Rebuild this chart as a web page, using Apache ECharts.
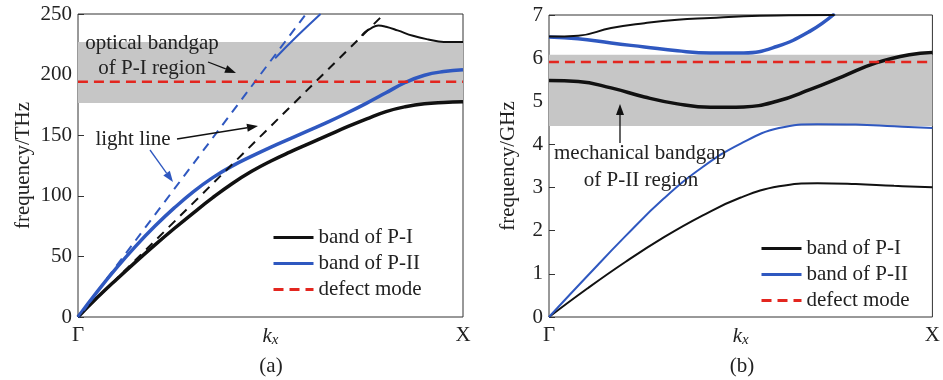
<!DOCTYPE html>
<html><head><meta charset="utf-8">
<script src="https://cdn.jsdelivr.net/npm/echarts@6/dist/echarts.min.js"></script>
<style>html,body{margin:0;padding:0;background:#fff}#c{width:943px;height:380px}</style>
</head><body><div id="c"></div>
<script>
// ---------- data (a) optical bands, frequency in THz ----------
const kStep = [0,0.05,0.1,0.15,0.2,0.25,0.3,0.35,0.4,0.45,0.5,0.55,0.6,0.65,0.7,0.75,0.8,0.85,0.9,0.95,1];
const aP1Band1 = [0,16,31,45.5,59.5,73,86,98.5,110,120,128.5,136,143,150,157,163.5,169.5,173.5,176,177,177.5];
const aP2Band1 = [0,21,40.5,58.5,75,90,103.5,115,124.5,132.5,140,147,154,161,168.5,176.5,185,193.5,199.5,202.5,204];
const aP1Band2 = [[0.737,232],[0.745,235],[0.76,238],[0.78,240.5],[0.8,239.5],[0.83,236.5],[0.87,232],[0.91,229],[0.95,227],[1,227]];
const aP2Band2 = [[0.512,213.5],[0.57,232],[0.63,250]];
const aLightP1 = [[0,0],[0.795,250]];
const aLightP2 = [[0,0],[0.592,250]];
const aDefect = 194;
const aGap = [176.5, 227];
const aYTicks = [0, 250, 50];
// ---------- data (b) mechanical bands, frequency in GHz ----------
const kTen = [0,0.1,0.2,0.3,0.4,0.5,0.6,0.7,0.8,0.9,1];
const bP1Band1 = [0,0.66,1.28,1.85,2.35,2.77,3.03,3.1,3.08,3.04,3.01];
const bP2Band1 = [0,0.95,1.88,2.75,3.47,4.02,4.38,4.47,4.46,4.42,4.38];
const bP1Band2 = [[0,5.48],[0.076,5.46],[0.162,5.31],[0.249,5.1],[0.335,4.94],[0.421,4.86],[0.508,4.87],[0.594,5.0],[0.68,5.27],[0.767,5.58],[0.853,5.89],[0.94,6.08],[1,6.13]];
const bP2Band2 = [[0,6.49],[0.076,6.45],[0.162,6.35],[0.249,6.26],[0.335,6.17],[0.421,6.12],[0.508,6.12],[0.594,6.27],[0.68,6.62],[0.745,7.03]];
const bP1Band3 = [[0,6.5],[0.076,6.52],[0.162,6.7],[0.249,6.81],[0.335,6.89],[0.421,6.93],[0.508,6.97],[0.594,6.99],[0.745,7.0]];
const bDefect = 5.91;
const bGap = [4.43, 6.08];
const bYTicks = [0, 7, 1];
const kLabels = ['Γ', 'k', 'x', 'X'];
const legendNames = ['band of P-I', 'band of P-II', 'defect mode'];

const FONT = 'Liberation Serif';
const BLACK = '#111111', BLUE = '#2f58c0', RED = '#e3261f', GRAY = '#c6c6c6';
const zip = (xs, ys) => xs.map((x, i) => [x, ys[i]]);

function xAxisCfg(gi) {
  return {
    type: 'value', gridIndex: gi, min: 0, max: 1, interval: 0.5,
    axisLine: {show: false}, axisTick: {show: false}, splitLine: {show: false},
    axisLabel: {
      margin: 8, fontFamily: FONT, fontSize: 21, color: '#222',
      formatter: v => v === 0 ? kLabels[0] : (v === 1 ? kLabels[3] : '{k|' + kLabels[1] + '}{s|' + kLabels[2] + '}'),
      rich: {k: {fontFamily: FONT, fontStyle: 'italic', fontSize: 21, color: '#222'},
             s: {fontFamily: FONT, fontStyle: 'italic', fontSize: 15, color: '#222', verticalAlign: 'bottom', padding: [8,0,0,0]}}
    }
  };
}
function yAxisCfg(gi, t, name, gap) {
  return {
    type: 'value', gridIndex: gi, min: t[0], max: t[1], interval: t[2],
    name: name, nameLocation: 'middle', nameGap: gap,
    nameTextStyle: {fontFamily: FONT, fontSize: 21, color: '#222'},
    axisLine: {show: false}, splitLine: {show: false},
    axisTick: {show: true, inside: true, length: 6, lineStyle: {color: '#333', width: 1}},
    axisLabel: {margin: 6, fontFamily: FONT, fontSize: 21, color: '#222'}
  };
}
function line(name, gi, data, color, width, dash, z) {
  return {
    type: 'line', name: name, xAxisIndex: gi, yAxisIndex: gi, data: data,
    showSymbol: false, symbol: 'none', smooth: 0.45, clip: true, silent: true,
    lineStyle: {color: color, width: width, type: dash || 'solid'},
    itemStyle: {color: color}, z: z || 3
  };
}
function band(gi, gap) {
  return {
    type: 'custom', xAxisIndex: gi, yAxisIndex: gi, silent: true, z: 1,
    data: [[0, gap[0], 1, gap[1]]],
    renderItem: (params, api) => {
      const p0 = api.coord([api.value(0), api.value(1)]);
      const p1 = api.coord([api.value(2), api.value(3)]);
      return {type: 'rect', shape: {x: p0[0], y: p1[1], width: p1[0] - p0[0], height: p0[1] - p1[1]},
              style: {fill: GRAY}};
    }
  };
}
function arrow(x1, y1, x2, y2, color) {
  const a = Math.atan2(y2 - y1, x2 - x1), L = 11, W = 4;
  const bx = x2 - L * Math.cos(a), by = y2 - L * Math.sin(a);
  const nx = -Math.sin(a) * W, ny = Math.cos(a) * W;
  return [
    {type: 'line', shape: {x1: x1, y1: y1, x2: bx, y2: by}, style: {stroke: color, lineWidth: 1.3}, z: 10},
    {type: 'polygon', shape: {points: [[x2, y2], [bx + nx, by + ny], [bx - nx, by - ny]]}, style: {fill: color}, z: 10}
  ];
}
function txt(x, y, s) {
  return {type: 'text', x: x, y: y, z: 10, style: {text: s, font: '21px "' + FONT + '"', fill: '#222', align: 'center', verticalAlign: 'middle'}};
}
const legendCommon = {
  orient: 'vertical', itemWidth: 40, itemHeight: 14, itemGap: 5, selectedMode: false,
  data: legendNames, textStyle: {fontFamily: FONT, fontSize: 21, color: '#222', padding: [0,0,0,0]},
  itemStyle: {opacity: 0, borderWidth: 0},
  lineStyle: {width: 3}
};

const chart = echarts.init(document.getElementById('c'), null, {renderer: 'canvas'});
chart.setOption({
  animation: false,
  backgroundColor: '#fff',
  grid: [
    {left: 78, top: 14, width: 385, height: 303, show: true, borderColor: '#333', borderWidth: 1, backgroundColor: 'transparent'},
    {left: 549, top: 15, width: 386, height: 302, show: true, borderColor: '#333', borderWidth: 1, backgroundColor: 'transparent'}
  ],
  xAxis: [xAxisCfg(0), xAxisCfg(1)],
  yAxis: [yAxisCfg(0, aYTicks, 'frequency/THz', 44), yAxisCfg(1, bYTicks, 'frequency/GHz', 30)],
  legend: [
    Object.assign({left: 267, top: 222}, legendCommon),
    Object.assign({left: 755, top: 233}, legendCommon)
  ],
  series: [
    band(0, aGap),
    line('defect mode', 0, [[0, aDefect], [1, aDefect]], RED, 2.5, [10, 6], 4),
    line('band of P-I', 0, zip(kStep, aP1Band1), BLACK, 3.5),
    line('band of P-II', 0, zip(kStep, aP2Band1), BLUE, 3.5),
    line('band of P-I', 0, aP1Band2, BLACK, 2),
    line('band of P-II', 0, aP2Band2, BLUE, 2),
    line('light P-I', 0, aLightP1, BLACK, 2, [9, 7]),
    line('light P-II', 0, aLightP2, BLUE, 2, [9, 7]),
    band(1, bGap),
    line('defect mode', 1, [[0, bDefect], [1, bDefect]], RED, 2.5, [10, 6], 4),
    line('band of P-I', 1, zip(kTen, bP1Band1), BLACK, 2),
    line('band of P-II', 1, zip(kTen, bP2Band1), BLUE, 2),
    line('band of P-I', 1, bP1Band2, BLACK, 3.5),
    line('band of P-II', 1, bP2Band2, BLUE, 3.5),
    line('band of P-I', 1, bP1Band3, BLACK, 2)
  ],
  graphic: [
    txt(152, 43, 'optical bandgap'),
    txt(152, 68, 'of P-I region'),
    ...arrow(208, 62, 236, 73, BLACK),
    txt(133, 139, 'light line'),
    ...arrow(177, 139, 258, 126, BLACK),
    ...arrow(150, 150, 173, 182, BLUE),
    txt(640, 153, 'mechanical bandgap'),
    txt(641, 180, 'of P-II region'),
    ...arrow(620, 143, 620, 104, BLACK),
    txt(271, 366, '(a)'),
    txt(742, 366, '(b)')
  ]
});
</script></body></html>
